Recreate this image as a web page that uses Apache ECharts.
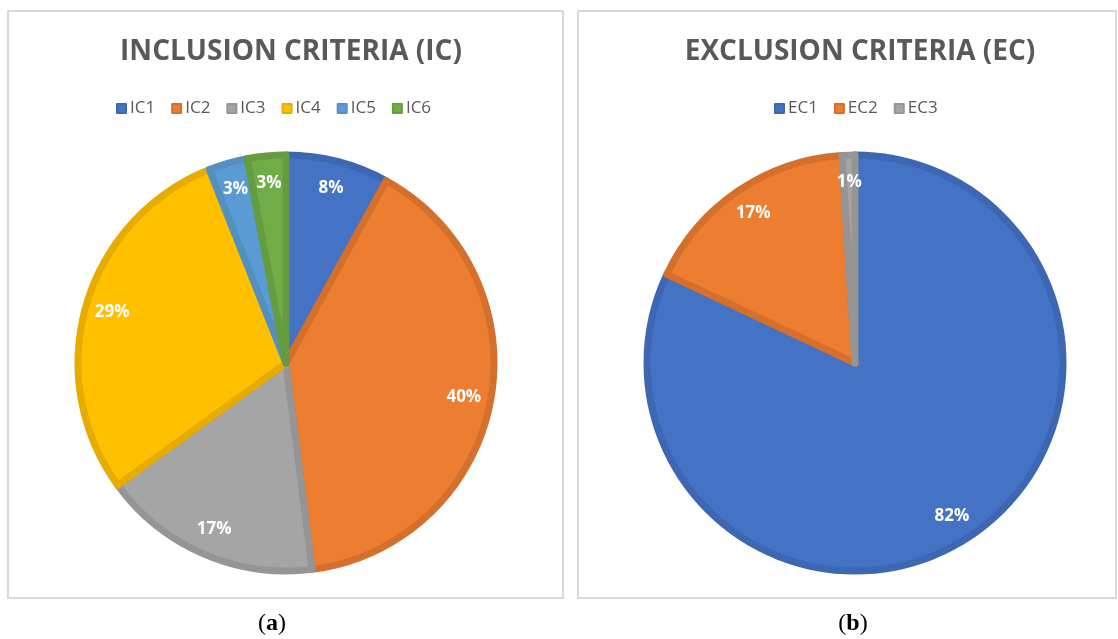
<!DOCTYPE html>
<html>
<head>
<meta charset="utf-8">
<script src="https://cdn.jsdelivr.net/npm/echarts@6/dist/echarts.min.js"></script>
<style>
  html, body { margin: 0; padding: 0; background: #fff; }
  #chart { width: 1118px; height: 639px; }
</style>
</head>
<body>
<div id="chart"></div>
<script>
// inclusion criteria shares (%)
const icNames = ['IC1', 'IC2', 'IC3', 'IC4', 'IC5', 'IC6'];
const icValues = [8, 40, 17, 29, 3, 3];
const icColors = ['#4472C4', '#ED7D31', '#A5A5A5', '#FFC000', '#5B9BD5', '#70AD47'];
const icBorders = ['#3D67B2', '#D5702C', '#959595', '#E6AD00', '#5290C0', '#659C40'];

// exclusion criteria shares (%)
const ecNames = ['EC1', 'EC2', 'EC3'];
const ecValues = [82, 17, 1];
const ecColors = ['#4472C4', '#ED7D31', '#A5A5A5'];
const ecBorders = ['#3D67B2', '#D5702C', '#959595'];

const panelTitles = ['INCLUSION CRITERIA (IC)', 'EXCLUSION CRITERIA (EC)'];
const panelTags = ['a', 'b'];

const FONT = '"Open Sans", "Noto Sans", sans-serif';
const centers = [[286, 363], [855, 363]];
const R = 208;

function pieData(names, values, colors, borders) {
  return names.map((n, i) => ({
    name: n,
    value: values[i],
    itemStyle: { color: colors[i], borderColor: borders[i] }
  }));
}

// main slices + transparent twin that only carries the labels further out
function pieSeries(names, values, colors, borders, center) {
  return [
    {
      type: 'pie',
      center: center,
      radius: [0, R],
      startAngle: 90,
      silent: true,
      itemStyle: { borderWidth: 7 },
      label: { show: false },
      labelLine: { show: false },
      data: pieData(names, values, colors, borders)
    },
    {
      type: 'pie',
      center: center,
      radius: [150, 206],
      startAngle: 90,
      silent: true,
      itemStyle: { color: 'rgba(0,0,0,0)', borderWidth: 0 },
      label: {
        show: true,
        position: 'inside',
        formatter: '{c}%',
        color: '#fff',
        fontFamily: FONT,
        fontWeight: 'bold',
        fontSize: 17
      },
      labelLine: { show: false },
      data: names.map((n, i) => ({ name: n, value: values[i], itemStyle: { color: 'rgba(0,0,0,0)' } }))
    }
  ];
}

const legendBase = {
  top: 95,
  icon: 'rect',
  itemWidth: 9,
  itemHeight: 9,
  itemGap: 16,
  selectedMode: false,
  textStyle: { fontFamily: FONT, fontSize: 17, color: '#595959', padding: [0, 0, 0, -1] }
};

const chart = echarts.init(document.getElementById('chart'), null, { renderer: 'canvas' });

chart.setOption({
  animation: false,
  backgroundColor: '#fff',
  color: icColors,
  title: [0, 1].map(i => ({
    text: panelTitles[i],
    left: centers[i][0],
    top: 33,
    textAlign: 'center',
    textStyle: { fontFamily: FONT, fontWeight: 'bold', fontSize: 28, color: '#595959' }
  })),
  legend: [
    Object.assign({ data: icNames, left: 111 }, legendBase),
    Object.assign({ data: ecNames, left: 769 }, legendBase)
  ],
  graphic: [
    { type: 'rect', shape: { x: 8, y: 11, width: 555, height: 587 }, style: { fill: 'none', stroke: '#d9d9d9', lineWidth: 2 }, z: -1 },
    { type: 'rect', shape: { x: 578, y: 11, width: 538, height: 587 }, style: { fill: 'none', stroke: '#d9d9d9', lineWidth: 2 }, z: -1 },
    {
      type: 'text', x: 272, y: 624, style: {
        text: '({b|' + panelTags[0] + '})', align: 'center', verticalAlign: 'middle',
        font: '24px "Liberation Serif", serif', fill: '#000',
        rich: { b: { fontFamily: '"Liberation Serif", serif', fontWeight: 'bold', fontSize: 24, fill: '#000' } }
      }
    },
    {
      type: 'text', x: 853, y: 624, style: {
        text: '({b|' + panelTags[1] + '})', align: 'center', verticalAlign: 'middle',
        font: '24px "Liberation Serif", serif', fill: '#000',
        rich: { b: { fontFamily: '"Liberation Serif", serif', fontWeight: 'bold', fontSize: 24, fill: '#000' } }
      }
    }
  ],
  series: [
    ...pieSeries(icNames, icValues, icColors, icBorders, centers[0]),
    ...pieSeries(ecNames, ecValues, ecColors, ecBorders, centers[1])
  ]
});
</script>
</body>
</html>
